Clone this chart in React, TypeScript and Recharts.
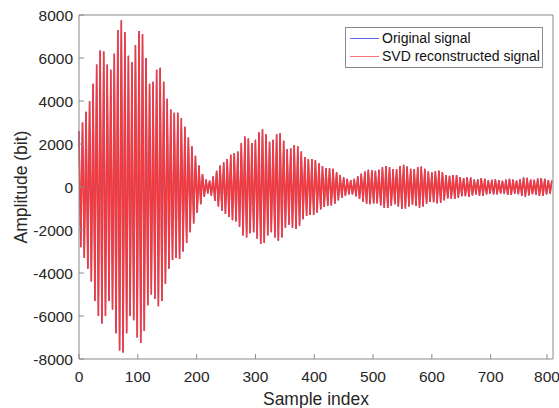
import { LineChart, Line, XAxis, YAxis, Legend } from 'recharts';

// peak value of each half cycle
// upper peaks sit at samples 0, 6, 12 ... ; lower peaks at 3, 9, 15 ...
const upperPeaks = [
  2600, 3000, 3500, 4000, 4800, 5700, 6350, 6300, 5700, 5450, 6200, 7300, 7750, 7200, 6100, 5800,
  6600, 7250, 7100, 6000, 4800, 4900, 5450, 5550, 4900, 4100, 3600, 3450, 3450, 3200, 2800, 2300,
  1900, 1450, 1000, 600, 350, 300, 500, 750, 1000, 1150, 1300, 1500, 1580, 1650, 2050, 2350,
  2250, 2050, 2200, 2550, 2680, 2450, 2100, 2200, 2450, 2500, 2150, 1750, 1800, 1950, 1900, 1650,
  1400, 1300, 1300, 1250, 1100, 980, 880, 870, 850, 700, 560, 450, 380, 320, 380, 500,
  620, 720, 800, 790, 750, 800, 920, 980, 930, 820, 830, 980, 1030, 950, 850, 830,
  930, 950, 850, 720, 680, 740, 760, 680, 560, 520, 560, 550, 460, 420, 450, 440,
  350, 360, 420, 380, 310, 330, 360, 320, 290, 340, 380, 340, 300, 360, 440, 430,
  350, 330, 390, 420, 380, 320, 300,
];

const lowerPeaks = [
  -2800, -3300, -3800, -4400, -5300, -6000, -6350, -6000, -5300, -5700, -6800, -7600, -7700, -6800, -6000, -6200,
  -7000, -7250, -6700, -5500, -5000, -5200, -5550, -5300, -4500, -3800, -3400, -3300, -3350, -3000, -2600, -2100,
  -1700, -1200, -800, -450, -300, -400, -650, -900, -1100, -1250, -1400, -1550, -1600, -1850, -2250, -2350,
  -2150, -2100, -2400, -2650, -2600, -2250, -2100, -2350, -2500, -2350, -1900, -1750, -1900, -1950, -1800, -1500,
  -1350, -1300, -1300, -1200, -1050, -930, -870, -860, -780, -620, -500, -410, -340, -340, -440, -560,
  -680, -780, -800, -770, -760, -860, -960, -970, -870, -800, -900, -1020, -1000, -900, -820, -880,
  -960, -900, -780, -690, -710, -760, -730, -620, -530, -540, -560, -500, -430, -430, -460, -390,
  -340, -400, -410, -340, -310, -350, -340, -300, -310, -370, -370, -310, -330, -410, -450, -390,
  -330, -360, -410, -410, -350, -310,
];

const xTicks = [0, 100, 200, 300, 400, 500, 600, 700, 800];
const yTicks = [-8000, -6000, -4000, -2000, 0, 2000, 4000, 6000, 8000];

const HALF_PERIOD = 3; // samples between neighbouring peaks

const data: { x: number; original: number; svd: number }[] = [];
for (let i = 0; i < upperPeaks.length + lowerPeaks.length; i++) {
  const v = i % 2 === 0 ? upperPeaks[i / 2] : lowerPeaks[(i - 1) / 2];
  data.push({ x: i * HALF_PERIOD, original: v, svd: v });
}

const FONT = '"Liberation Sans", Arial, Helvetica, sans-serif';
const AXIS = '#8a8a8a';
const TEXT = '#262626';

function BottomTick({ x, y, payload }: any) {
  return (
    <g>
      <line x1={x} x2={x} y1={y} y2={y - 5} stroke={AXIS} />
      <text x={x} y={y + 23} textAnchor="middle" fontSize={15.5} fontFamily={FONT} fill={TEXT}>
        {payload.value}
      </text>
    </g>
  );
}

function LeftTick({ x, y, payload }: any) {
  return (
    <g>
      <line x1={x} x2={x + 5} y1={y} y2={y} stroke={AXIS} />
      <text x={x - 6} y={y + 5.5} textAnchor="end" fontSize={15.5} fontFamily={FONT} fill={TEXT}>
        {payload.value}
      </text>
    </g>
  );
}

function LegendBox({ payload }: any) {
  return (
    <div
      style={{
        border: '1px solid #8a8a8a',
        background: '#fff',
        width: 196,
        height: 37,
        padding: '2px 0 0 0',
        fontFamily: FONT,
        fontSize: 14,
        color: '#111',
        lineHeight: '17.5px',
      }}
    >
      {(payload || []).map((p: any) => (
        <div key={p.value} style={{ display: 'flex', alignItems: 'center' }}>
          <span style={{ display: 'inline-block', width: 29, height: 1, background: p.color, opacity: 0.7, margin: '0 3px 0 4px' }} />
          <span>{p.value}</span>
        </div>
      ))}
    </div>
  );
}

export default function App() {
  return (
    <div style={{ position: 'absolute', left: 0, top: 0, width: 559, height: 408, background: '#fff' }}>
      <LineChart width={559} height={408} data={data} margin={{ top: 15, right: 6, bottom: 0, left: 0 }}>
        <XAxis
          xAxisId="b"
          dataKey="x"
          type="number"
          domain={[0, 806]}
          ticks={xTicks}
          height={49}
          tickSize={0}
          tickMargin={0}
          tickLine={false}
          tick={<BottomTick />}
          axisLine={{ stroke: AXIS }}
          label={{ value: 'Sample index', position: 'insideBottom', offset: 3, fontSize: 17.5, fontFamily: FONT, fill: TEXT }}
        />
        <XAxis
          xAxisId="t"
          dataKey="x"
          type="number"
          orientation="top"
          mirror
          domain={[0, 806]}
          ticks={xTicks}
          tick={false}
          tickSize={5}
          tickLine={{ stroke: AXIS }}
          axisLine={{ stroke: AXIS }}
        />
        <YAxis
          yAxisId="l"
          type="number"
          domain={[-8000, 8000]}
          ticks={yTicks}
          width={79}
          tickSize={0}
          tickMargin={0}
          tickLine={false}
          tick={<LeftTick />}
          axisLine={{ stroke: AXIS }}
          label={{ value: 'Amplitude (bit)', angle: -90, position: 'insideLeft', offset: 21, fontSize: 17.5, fontFamily: FONT, fill: TEXT, style: { textAnchor: 'middle' } }}
        />
        <YAxis
          yAxisId="r"
          type="number"
          orientation="right"
          mirror
          domain={[-8000, 8000]}
          ticks={yTicks}
          tick={false}
          tickSize={5}
          tickLine={{ stroke: AXIS }}
          axisLine={{ stroke: AXIS }}
        />
        <Legend
          layout="horizontal"
          verticalAlign="middle"
          align="center"
          content={<LegendBox />}
          wrapperStyle={{ position: 'absolute', left: 345, top: 27, width: 198, height: 39 }}
        />
        <Line
          xAxisId="b"
          yAxisId="l"
          type="linear"
          dataKey="original"
          name="Original signal"
          stroke="#2020d0"
          strokeWidth={1.2}
          dot={false}
          isAnimationActive={false}
        />
        <Line
          xAxisId="b"
          yAxisId="l"
          type="linear"
          dataKey="svd"
          name="SVD reconstructed signal"
          stroke="#f43a3a"
          strokeWidth={1.6}
          dot={false}
          isAnimationActive={false}
        />
      </LineChart>
    </div>
  );
}
